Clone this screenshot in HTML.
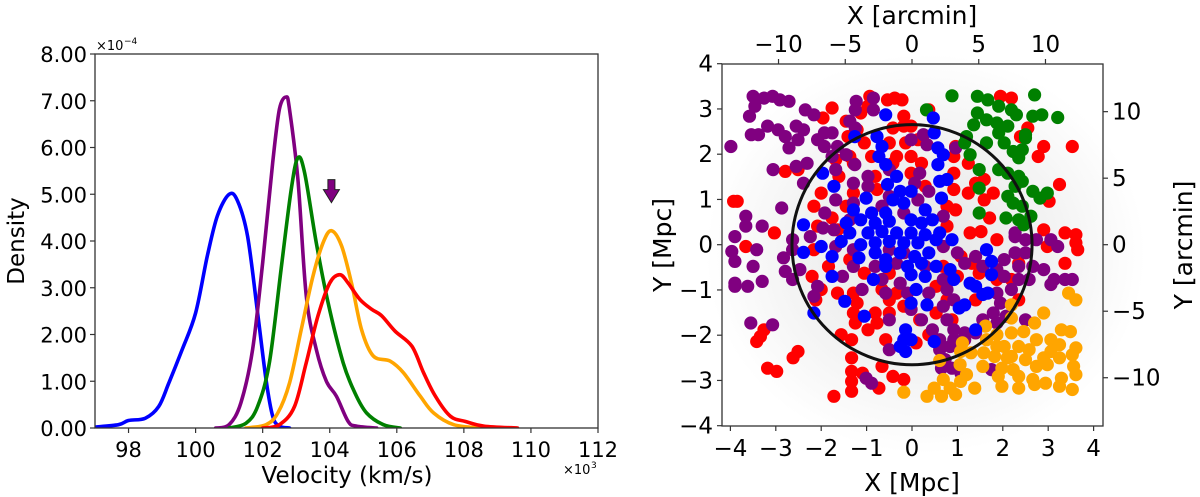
<!DOCTYPE html>
<html><head><meta charset="utf-8">
<style>
html,body{margin:0;padding:0;background:#fff;}
svg{display:block;font-family:"DejaVu Sans","Liberation Sans",sans-serif;}
</style></head>
<body>
<svg id="fig" width="1200" height="497" viewBox="0 0 1200 497" xmlns="http://www.w3.org/2000/svg">
<defs>
<radialGradient id="haze" cx="50%" cy="50%" r="50%">
<stop offset="0%" stop-color="#e6e6e6"/>
<stop offset="60%" stop-color="#f3f3f3"/>
<stop offset="100%" stop-color="#ffffff"/>
</radialGradient>
<clipPath id="clipL"><rect x="95" y="54" width="503" height="374"/></clipPath>
<clipPath id="clipR"><rect x="722" y="64" width="381" height="362"/></clipPath>
</defs>
<g id="left"></g>
<g id="right"></g>
</svg>
<script>
// ---------- LEFT CHART DATA ----------
const xTicksL = [98,100,102,104,106,108,110,112];
const yTicksL = [0,1,2,3,4,5,6,7,8];
const yTickLabelsL = ["0.00","1.00","2.00","3.00","4.00","5.00","6.00","7.00","8.00"];
const blueV = [97.0,97.7,98.0,98.5,98.9,99.2,99.6,100.0,100.35,100.65,101.0,101.25,101.55,101.85,102.1,102.3,102.5,102.8];
const blueD = [0.02,0.07,0.16,0.21,0.46,0.96,1.68,2.46,3.68,4.54,5.0,4.86,4.1,2.46,1.04,0.25,0.04,0.0];
const purpleV = [100.6,101.0,101.35,101.7,102.0,102.3,102.5,102.7,102.8,103.05,103.3,103.6,103.9,104.2,104.55,104.8,105.4];
const purpleD = [0,0.07,0.54,1.68,3.54,5.68,6.82,7.08,6.82,5.32,2.82,1.68,1.0,0.68,0.14,0.04,0];
const greenV = [101.0,101.5,101.85,102.2,102.55,102.85,103.05,103.25,103.6,103.95,104.4,104.75,105.1,105.6,106.1];
const greenD = [0,0.1,0.46,1.4,3.4,5.1,5.78,5.46,3.96,2.68,1.4,0.75,0.32,0.07,0];
const orangeV = [101.5,102.1,102.45,102.8,103.15,103.5,103.8,104.05,104.35,104.65,104.95,105.3,105.8,106.2,106.7,107.1,107.7,108.5];
const orangeD = [0,0.07,0.32,0.96,2.1,3.25,3.96,4.22,3.9,3.1,2.1,1.54,1.43,1.18,0.68,0.32,0.07,0];
const redV = [102.0,102.5,102.95,103.3,103.65,104.0,104.3,104.55,104.9,105.25,105.55,105.95,106.45,106.8,107.15,107.6,108.05,108.6,109.6];
const redD = [0,0.07,0.46,1.4,2.4,3.1,3.28,3.1,2.75,2.54,2.4,2.07,1.75,1.18,0.68,0.25,0.14,0.04,0];
const arrowV = 104.05, arrowD = 4.82;

// ---------- RIGHT CHART DATA (Mpc) ----------
const xTicksR = [-4,-3,-2,-1,0,1,2,3,4];
const yTicksR = [-4,-3,-2,-1,0,1,2,3,4];
const arcTicks = [-10,-5,0,5,10];
const circleR = 2.65;
const redX = [-0.93,-0.54,-0.38,-0.22,0.37,1.95,2.19,-1.76,-1.96,-1.45,-1.13,-0.97,-0.18,-0.02,-0.18,-1.21,-0.42,-1.41,-1.05,-0.5,-0.14,0.13,2.39,2.55,2.9,3.53,2.78,-1.37,-0.89,-0.34,-0.02,0.96,-1.68,-1.29,-0.42,0.21,0.92,1.24,-2.79,-2.51,-1.61,-0.81,-0.02,0.92,1.4,1.59,3.25,-2.0,-1.29,-0.77,0.29,0.92,1.24,1.59,1.79,3.02,-3.93,-3.85,-2.16,-1.76,-1.45,0.77,0.96,1.71,-2.08,-1.64,0.77,1.28,1.52,1.87,2.9,3.37,3.61,3.65,2.98,-3.03,-3.66,-2.16,-1.84,-1.37,1.08,1.32,2.35,3.37,-2.2,-1.05,-0.5,0.69,1.0,1.48,-2.0,-1.64,-1.29,-0.66,-0.34,0.53,1.87,2.19,-2.12,-1.21,-0.5,-0.18,0.77,1.4,2.35,-1.29,-0.81,-0.5,0.53,-1.25,-0.77,0.17,0.88,-3.26,-3.34,-3.42,-1.56,-1.33,-0.97,-0.58,0.37,0.09,-2.51,-2.62,-1.33,-0.66,-3.18,-2.98,-1.33,-1.09,-0.42,-0.18,-1.33,-0.73,-1.33,-1.72,3.61];
const redY = [3.28,3.2,3.24,3.2,2.98,3.28,3.24,3.02,2.8,2.73,2.91,3.06,2.84,2.62,2.62,2.54,2.58,2.39,2.25,2.25,2.25,2.32,2.39,2.58,2.17,2.17,1.95,1.95,1.95,1.95,1.95,2.17,1.88,1.8,1.8,1.8,1.95,1.8,1.62,1.66,1.51,1.51,1.58,1.58,1.36,1.44,1.33,1.14,1.14,1.22,1.29,1.22,1.14,0.99,1.14,0.96,0.96,0.96,0.85,0.59,0.85,0.85,0.77,0.59,0.41,0.33,0.41,0.26,0.29,0.11,0.33,0.26,0.22,-0.11,-0.04,0.26,-0.04,-0.11,-0.48,-0.33,-0.26,-0.41,-0.41,-0.41,-0.7,-0.63,-0.63,-0.48,-0.7,-0.63,-0.99,-1.07,-1.07,-0.99,-1.07,-0.92,-0.77,-0.77,-1.22,-1.29,-1.22,-1.36,-1.22,-1.22,-1.22,-1.51,-1.51,-1.51,-1.51,-1.73,-1.73,-1.66,-1.66,-1.88,-2.03,-2.14,-1.99,-2.1,-1.88,-2.1,-1.99,-2.17,-2.36,-2.5,-2.5,-2.69,-2.73,-2.8,-2.8,-2.84,-2.91,-2.98,-3.02,-3.17,-3.24,-3.35,0.04];
const purpleX = [-3.5,-3.26,-3.07,-2.91,-2.71,-3.46,-3.58,-3.18,-2.95,-3.54,-3.38,-2.79,-2.55,-2.39,-2.35,-2.16,-2.71,-2.51,-3.99,-3.06,-2.55,-2.31,-2.39,-2.08,-1.93,-1.76,-1.64,-1.93,-1.76,-1.68,-2.87,-3.66,-3.3,-3.66,-3.9,-2.63,-2.63,-3.97,-3.9,-3.42,-3.5,-2.83,-2.79,-2.63,-2.47,-3.3,-3.9,-3.9,-3.62,-3.55,-3.07,-1.96,-2.24,-2.08,-2.16,-1.23,-0.85,-1.25,-0.85,-1.37,-1.25,-0.02,0.25,0.33,0.96,-1.45,-1.26,-0.97,-0.5,0.17,-1.29,-0.97,0.06,0.37,-1.68,-1.29,-0.5,-0.66,0.13,-1.92,-1.72,-1.37,-0.18,0.69,-1.68,-1.29,-0.5,-0.18,0.69,1.0,1.16,1.4,1.56,-1.29,-0.81,-0.34,0.29,-1.53,-0.66,-0.26,0.69,-1.1,-0.58,-0.1,0.37,0.77,0.92,-0.02,0.69,-0.5,0.21,0.77,0.45,0.92,0.61,0.92,1.16,0.61,0.84,1.16,0.73,0.88,0.65,-0.5,-0.89,-1.01,1.75,1.08,2.27,2.5,2.74,3.06,3.21,2.27,2.5,2.03,2.35,2.66,2.9,1.87,2.03,2.35,2.58,3.13,3.37,3.53,3.06,2.19,1.87,1.95,1.79,2.07,2.5,1.87,1.56,1.4,2.27];
const purpleY = [3.28,3.24,3.28,3.2,3.17,3.06,2.84,2.62,2.54,2.43,2.43,2.39,2.62,2.54,2.98,2.87,2.14,2.32,2.17,1.66,1.73,1.8,1.36,2.32,2.17,2.47,2.17,2.47,1.95,1.66,0.81,0.63,0.41,0.41,0.18,0.11,-0.11,-0.15,-0.37,-0.11,-0.48,-0.29,-0.59,-0.77,-0.55,-0.81,-0.85,-0.92,-0.92,-1.73,-1.77,0.37,0.18,-0.92,-1.14,3.17,3.24,2.98,2.98,2.73,2.58,2.32,2.43,2.21,2.14,1.99,1.77,1.51,1.66,1.58,1.36,1.29,1.36,1.18,0.99,0.92,1.07,0.85,0.99,0.7,0.33,0.55,0.7,0.63,-0.04,-0.11,-0.11,-0.18,-0.04,-0.18,-0.41,-0.26,-0.48,-0.48,-0.48,-0.41,-0.48,-0.7,-0.77,-0.85,-0.77,-0.99,-1.07,-1.07,-1.07,-0.99,-1.22,-1.43,-1.36,-1.66,-1.66,-1.66,-1.88,-1.88,-2.1,-2.1,-1.95,-2.32,-2.25,-2.1,-2.54,-2.73,-2.73,-2.32,-3.06,-2.95,-2.76,-2.84,0.26,0.11,0.11,0.11,-0.04,-0.18,-0.18,-0.33,-0.48,-0.48,-0.55,-0.55,-0.7,-0.77,-0.77,-0.77,-0.77,-0.77,-0.88,-0.99,-1.07,-1.29,-1.51,-1.58,-1.66,-1.73,-1.66,-1.95,0.18];
const greenX = [0.88,0.32,1.44,1.67,1.91,2.19,2.3,2.7,2.86,3.21,2.66,1.44,1.64,1.87,1.36,1.91,2.11,1.2,1.16,1.64,1.28,2.03,2.23,2.43,2.35,2.5,1.48,1.91,2.11,2.35,2.43,2.27,1.48,2.11,2.23,2.43,2.66,2.98,2.82,1.48,2.07,2.35,2.62,2.46,2.5];
const greenY = [3.29,2.98,3.28,3.2,3.06,2.98,2.87,3.31,2.87,2.81,2.84,2.91,2.76,2.69,2.65,2.47,2.62,2.39,2.25,2.25,1.99,2.25,2.06,2.1,1.92,2.36,1.66,1.66,1.58,1.51,1.4,1.29,1.25,1.07,0.92,0.85,1.18,1.14,1.03,0.7,0.59,0.55,0.63,0.44,2.43];
const orangeX = [3.45,3.61,2.19,2.19,2.9,2.7,1.62,3.29,3.49,1.64,1.87,2.19,2.46,2.74,3.06,3.25,1.11,2.03,2.35,2.58,3.61,3.53,1.07,1.3,1.58,1.82,2.1,2.5,2.9,3.25,0.61,1.06,1.56,1.98,2.23,2.74,2.98,3.56,1.2,1.9,2.35,2.66,2.94,3.29,3.61,0.69,1.07,1.38,1.98,2.35,2.7,3.25,3.53,-0.18,0.33,0.65,0.96,0.49,0.84,1.87,3.06,2.19];
const orangeY = [-1.07,-1.22,-1.33,-1.62,-1.51,-1.73,-1.8,-1.88,-1.92,-2.1,-1.99,-1.95,-1.92,-2.1,-2.1,-2.21,-2.17,-2.25,-2.25,-2.32,-2.28,-2.43,-2.36,-2.39,-2.39,-2.47,-2.5,-2.54,-2.5,-2.5,-2.56,-2.65,-2.69,-2.73,-2.76,-2.69,-2.65,-2.69,-2.87,-2.91,-2.91,-2.98,-3.06,-2.95,-2.87,-2.98,-3.02,-3.17,-3.13,-3.17,-3.09,-3.13,-3.2,-3.26,-3.35,-3.35,-3.31,-3.17,-3.17,-2.25,-2.36,-2.47];
const blueX = [-0.58,0.47,-1.26,-0.77,0.49,-0.66,0.57,0.69,-0.73,-0.58,0.57,-1.97,-1.72,0.77,0.61,-0.54,-0.34,-0.26,-0.02,0.65,-1.01,-0.42,-1.29,-0.89,-0.58,-0.18,0.29,-2.39,-1.45,-1.13,-0.81,-0.5,-0.02,0.21,0.45,-1.37,-0.97,-0.66,-0.34,-0.02,0.29,0.61,-1.56,-1.13,-0.81,-0.5,-0.18,0.13,0.53,0.88,-2.0,-2.39,-1.76,-1.17,-0.81,-0.58,-0.26,0.06,0.37,1.64,1.75,-0.58,-0.1,0.21,0.53,0.84,-1.76,-0.85,-0.02,0.29,0.92,1.75,1.28,1.4,1.56,1.67,0.09,-1.48,-0.02,0.33,1.04,1.16,-2.16,-1.05,-0.14,1.4,-0.18,-0.02,-0.26,-0.14,0.49];
const blueY = [2.87,2.8,2.39,2.39,2.47,2.17,2.14,1.99,1.95,1.77,1.77,1.58,1.29,1.44,1.4,1.33,1.51,1.18,1.18,1.03,1.03,0.99,0.77,0.7,0.7,0.92,0.77,0.44,0.48,0.55,0.48,0.52,0.55,0.48,0.55,0.26,0.26,0.29,0.26,0.26,0.22,0.26,0.07,0,0.04,0.07,0.04,0.04,0.11,0.11,-0.04,-0.17,-0.26,-0.29,-0.18,-0.33,-0.18,-0.26,-0.18,-0.11,-0.37,-0.48,-0.48,-0.41,-0.48,-0.55,-0.7,-0.77,-0.66,-0.7,-0.77,-0.66,-0.85,-0.92,-1.1,-1.07,-0.99,-1.25,-1.29,-1.33,-1.4,-1.33,-1.51,-1.58,-1.88,-1.88,-2.1,-2.1,-2.25,-2.36,-2.14];

const NS = "http://www.w3.org/2000/svg";
function mk(tag, attrs, parent){const e=document.createElementNS(NS,tag);for(const k in attrs)e.setAttribute(k,attrs[k]);parent.appendChild(e);return e;}
function txt(s, attrs, parent){const e=mk("text",attrs,parent);e.textContent=s;return e;}

// ---------- LEFT CHART ----------
const L = document.getElementById("left");
const lx0=95, lx1=598, ly0=54, ly1=428;
const vx = v => lx0 + (v-97)/(112-97)*(lx1-lx0);
const dy = d => ly1 - d/8*(ly1-ly0);

function smoothPath(xs, ys){
  const p = xs.map((x,i)=>[x,ys[i]]);
  let d = "M"+p[0][0].toFixed(1)+","+p[0][1].toFixed(1);
  for(let i=0;i<p.length-1;i++){
    const p0=p[Math.max(i-1,0)],p1=p[i],p2=p[i+1],p3=p[Math.min(i+2,p.length-1)];
    const c1=[p1[0]+(p2[0]-p0[0])/6,p1[1]+(p2[1]-p0[1])/6];
    const c2=[p2[0]-(p3[0]-p1[0])/6,p2[1]-(p3[1]-p1[1])/6];
    d+=" C"+c1[0].toFixed(1)+","+c1[1].toFixed(1)+" "+c2[0].toFixed(1)+","+c2[1].toFixed(1)+" "+p2[0].toFixed(1)+","+p2[1].toFixed(1);
  }
  return d;
}
const curvesG = mk("g",{"clip-path":"url(#clipL)"},L);


const series = [["blue",blueV,blueD,"blue-density-curve"],["purple",purpleV,purpleD,"purple-density-curve"],["green",greenV,greenD,"green-density-curve"],["orange",orangeV,orangeD,"orange-density-curve"],["red",redV,redD,"red-density-curve"]];
series.forEach(s=>{
  const pth = mk("path",{d:smoothPath(s[1].map(vx),s[2].map(dy)),fill:"none",stroke:s[0],"stroke-width":3.6,"stroke-linejoin":"round","stroke-linecap":"round"},curvesG);
  
  
});
{
  const ax=vx(arrowV), ay=dy(arrowD);
  const arr = mk("path",{d:`M${ax},${ay} L${ax-8},${ay-13} L${ax-3.5},${ay-13} L${ax-3.5},${ay-23} L${ax+3.5},${ay-23} L${ax+3.5},${ay-13} L${ax+8},${ay-13} Z`,fill:"purple",stroke:"#222","stroke-width":1},L);
  
  
}
const frameL = mk("rect",{x:lx0,y:ly0,width:lx1-lx0,height:ly1-ly0,fill:"none",stroke:"#333","stroke-width":1.3},L);


xTicksL.forEach(v=>{
  const x=vx(v);
  mk("line",{x1:x,y1:ly1,x2:x,y2:ly1+5,stroke:"#333","stroke-width":1.2},L);
  const t=txt(String(v),{x:x,y:ly1+29,"font-size":21,"text-anchor":"middle",fill:"#000"},L);
  
  
});
yTicksL.forEach((v,i)=>{
  const y=dy(v);
  mk("line",{x1:lx0-5,y1:y,x2:lx0,y2:y,stroke:"#333","stroke-width":1.2},L);
  const t=txt(yTickLabelsL[i],{x:lx0-8,y:y+8,"font-size":21,"text-anchor":"end",fill:"#000"},L);
  
  
});
{
  let t=txt("×10",{x:96,y:50,"font-size":13,fill:"#000"},L);
  
  
  t=txt("−4",{x:124,y:44,"font-size":9,fill:"#000"},L);
  
  
  t=txt("×10",{x:563,y:474,"font-size":13,fill:"#000"},L);
  
  
  t=txt("3",{x:591,y:468,"font-size":9,fill:"#000"},L);
  
  
  t=txt("Velocity (km/s)",{x:347,y:483,"font-size":23,"text-anchor":"middle",fill:"#000"},L);
  
  
  t=txt("Density",{x:0,y:0,"font-size":23,"text-anchor":"middle",fill:"#000",transform:"translate(24,241) rotate(-90)"},L);
  
  
}

// ---------- RIGHT CHART ----------
const R = document.getElementById("right");
const rx0=722, rx1=1103, ry0=64, ry1=426;
const px = x => 912 + x*45.4;
const py = y => 244.7 - y*45.25;
const arcPx = a => px(a*0.294);
const arcPy = a => py(a*0.294);
const bg = mk("ellipse",{cx:px(0.3),cy:py(-0.2),rx:220,ry:200,fill:"url(#haze)"},R);


const ptsG = mk("g",{"clip-path":"url(#clipR)"},R);


const groups=[["red",redX,redY,"red-galaxy"],["purple",purpleX,purpleY,"purple-galaxy"],["green",greenX,greenY,"green-galaxy"],["orange",orangeX,orangeY,"orange-galaxy"],["blue",blueX,blueY,"blue-galaxy"]];
groups.forEach(g=>{
  g[1].forEach((x,i)=>{
    const c=mk("circle",{cx:px(x).toFixed(1),cy:py(g[2][i]).toFixed(1),r:6.6,fill:g[0]},ptsG);
    
    
  });
});
const circ = mk("circle",{cx:px(0),cy:py(0),r:circleR*45.3,fill:"none",stroke:"#111","stroke-width":3},R);


const frameR = mk("rect",{x:rx0,y:ry0,width:rx1-rx0,height:ry1-ry0,fill:"none",stroke:"#333","stroke-width":1.3},R);


const fmt = v => v<0 ? "−"+Math.abs(v) : String(v);
xTicksR.forEach(v=>{
  const x=px(v);
  mk("line",{x1:x,y1:ry1,x2:x,y2:ry1+5,stroke:"#333","stroke-width":1.2},R);
  const t=txt(fmt(v),{x:x,y:ry1+30,"font-size":23,"text-anchor":"middle",fill:"#000"},R);
  
  
});
yTicksR.forEach(v=>{
  const y=py(v);
  mk("line",{x1:rx0-5,y1:y,x2:rx0,y2:y,stroke:"#333","stroke-width":1.2},R);
  const t=txt(fmt(v),{x:rx0-9,y:y+8,"font-size":23,"text-anchor":"end",fill:"#000"},R);
  
  
});
arcTicks.forEach(a=>{
  const x=arcPx(a);
  mk("line",{x1:x,y1:ry0-5,x2:x,y2:ry0,stroke:"#333","stroke-width":1.2},R);
  let t=txt(fmt(a),{x:x,y:ry0-12,"font-size":23,"text-anchor":"middle",fill:"#000"},R);
  
  
  const y=arcPy(a);
  mk("line",{x1:rx1,y1:y,x2:rx1+5,y2:y,stroke:"#333","stroke-width":1.2},R);
  t=txt(fmt(a),{x:rx1+9,y:y+8,"font-size":23,"text-anchor":"start",fill:"#000"},R);
  
  
});
{
  let t=txt("X [Mpc]",{x:912,y:491,"font-size":25,"text-anchor":"middle",fill:"#000"},R);
  
  
  t=txt("X [arcmin]",{x:912,y:24,"font-size":25,"text-anchor":"middle",fill:"#000"},R);
  
  
  t=txt("Y [Mpc]",{x:0,y:0,"font-size":25,"text-anchor":"middle",fill:"#000",transform:"translate(671,245) rotate(-90)"},R);
  
  
  t=txt("Y [arcmin]",{x:0,y:0,"font-size":25,"text-anchor":"middle",fill:"#000",transform:"translate(1192,245) rotate(-90)"},R);
  
  
}
</script>
</body></html>
